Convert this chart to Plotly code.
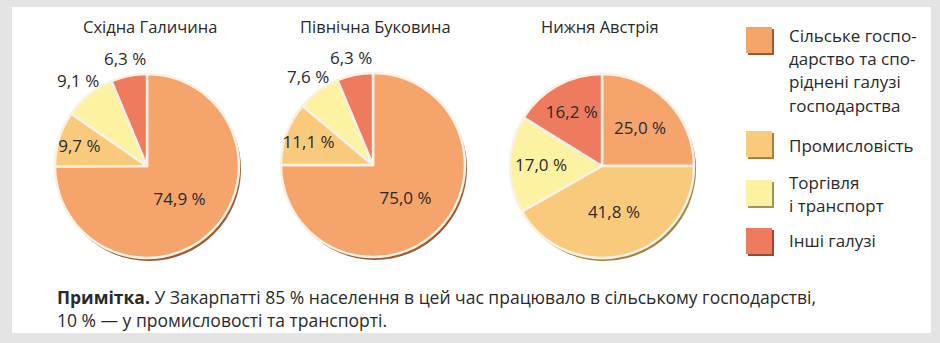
import math
import plotly.graph_objects as go

# ---------------- data ----------------
regions = ["Східна Галичина", "Північна Буковина", "Нижня Австрія"]
categories = [
    "Сільське господарство та споріднені галузі господарства",
    "Промисловість",
    "Торгівля і транспорт",
    "Інші галузі",
]
legend_lines = [
    ["Сільське госпо-", "дарство та спо-", "ріднені галузі", "господарства"],
    ["Промисловість"],
    ["Торгівля", "і транспорт"],
    ["Інші галузі"],
]
values_galychyna = [74.9, 9.7, 9.1, 6.3]
values_bukovyna = [75.0, 11.1, 7.6, 6.3]
values_austria = [25.0, 41.8, 17.0, 16.2]
note_bold = "Примітка."
note_text = ("У Закарпатті 85 % населення в цей час працювало в сільському господарстві,"
             "<br>10 % — у промисловості та транспорті.")

# ---------------- style ----------------
W, H = 940, 343
colors = ["#F5A46C", "#FACA7C", "#FCF2A2", "#EE7B5D"]
shadow_colors = ["#9C5A30", "#A8823C", "#9C9A50", "#9A4630"]
FONT = "Open Sans"
TXT = "#2a2a2a"

def px(x):
    return x / W

def py(y):
    return 1 - y / H

centers = [(147, 166), (373, 165), (602, 166)]
radius = 92
title_y = 26
label_outside = [
    [False, False, True, True],
    [False, False, True, True],
    [False, False, False, False],
]
all_values = [values_galychyna, values_bukovyna, values_austria]

def fmt(v):
    return f"{v:.1f}".replace(".", ",") + " %"

def dom(cx, cy, dx=0, dy=0):
    return dict(x=[px(cx - radius + dx), px(cx + radius + dx)],
                y=[py(cy + radius + dy), py(cy - radius + dy)])

fig = go.Figure()
annotations = []
for i, vals in enumerate(all_values):
    cx, cy = centers[i]
    # soft shadow rim
    fig.add_trace(go.Pie(
        labels=categories, values=vals, textinfo="none", sort=False,
        direction="clockwise", rotation=0,
        marker=dict(colors=shadow_colors, line=dict(width=0)),
        domain=dom(cx, cy, 2, 3), showlegend=False, hoverinfo="skip",
    ))
    texts = [("" if label_outside[i][k] else fmt(v)) for k, v in enumerate(vals)]
    fig.add_trace(go.Pie(
        labels=categories,
        values=vals,
        text=texts,
        textinfo="text",
        textposition="inside",
        insidetextorientation="horizontal",
        sort=False,
        direction="clockwise",
        rotation=0,
        marker=dict(colors=colors, line=dict(color="#f8f1e6", width=2.5)),
        textfont=dict(family=FONT, size=17, color=TXT),
        domain=dom(cx, cy),
        showlegend=False,
        hoverinfo="label+value",
        name=regions[i],
    ))
    # outside labels placed from slice mid-angles
    total = sum(vals)
    cum = 0.0
    for k, v in enumerate(vals):
        mid = 2 * math.pi * (cum + v / 2) / total
        cum += v
        if label_outside[i][k]:
            d = radius + 18
            annotations.append(dict(
                text=fmt(v), x=px(cx + d * math.sin(mid)), y=py(cy - d * math.cos(mid)),
                xref="paper", yref="paper", showarrow=False,
                xanchor="center", yanchor="middle",
                font=dict(family=FONT, size=17, color=TXT)))

shapes = [dict(type="rect", xref="paper", yref="paper",
               x0=px(12), x1=px(931), y0=py(333), y1=py(7),
               fillcolor="white", line=dict(width=0), layer="below")]
title_x = [150, 375, 600]
for i, r in enumerate(regions):
    annotations.append(dict(text=r, x=px(title_x[i]), y=py(title_y), xref="paper", yref="paper",
                            showarrow=False, xanchor="center", yanchor="middle",
                            font=dict(family=FONT, size=16.5, color=TXT)))

# legend (swatches + text)
sw_x0, sw_size = 746, 26
sw_tops = [27, 131, 180, 228]
text_first_y = [35, 145, 182, 241]
line_gap = 23.5
for k in range(len(categories)):
    t = sw_tops[k]
    shapes.append(dict(type="rect", xref="paper", yref="paper",
                       x0=px(sw_x0 + 2), x1=px(sw_x0 + sw_size + 2), y0=py(t + sw_size + 2), y1=py(t + 2),
                       fillcolor=shadow_colors[k], line=dict(width=0)))
    shapes.append(dict(type="rect", xref="paper", yref="paper",
                       x0=px(sw_x0), x1=px(sw_x0 + sw_size), y0=py(t + sw_size), y1=py(t),
                       fillcolor=colors[k], line=dict(width=0)))
    for j, line in enumerate(legend_lines[k]):
        annotations.append(dict(text=line, x=px(787), y=py(text_first_y[k] + j * line_gap),
                                xref="paper", yref="paper", showarrow=False,
                                xanchor="left", yanchor="middle",
                                font=dict(family=FONT, size=17, color=TXT)))

annotations.append(dict(text=f"<b>{note_bold}</b> {note_text}", x=px(55), y=py(308.5),
                        xref="paper", yref="paper", showarrow=False, align="left",
                        xanchor="left", yanchor="middle",
                        font=dict(family=FONT, size=17.5, color=TXT)))

fig.update_layout(
    width=W, height=H,
    margin=dict(l=0, r=0, t=0, b=0),
    paper_bgcolor="#e4e4e4",
    plot_bgcolor="#e4e4e4",
    shapes=shapes,
    annotations=annotations,
    uniformtext=dict(minsize=17, mode="show"),
)

fig.write_html("out.html")
